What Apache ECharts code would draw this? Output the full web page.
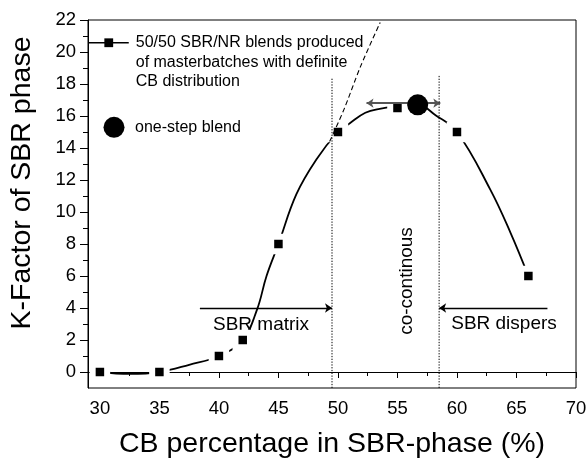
<!DOCTYPE html>
<html>
<head>
<meta charset="utf-8">
<script src="https://cdn.jsdelivr.net/npm/echarts@6/dist/echarts.min.js"></script>
<style>
html,body{margin:0;padding:0;background:#fff;}
#chart{width:587px;height:460px;}
</style>
</head>
<body>
<div id="chart"></div>
<script>
// Measured samples: 50/50 SBR/NR blends from masterbatches
const cbPercent = [30, 35, 40, 42, 45, 50, 55, 60, 66];
const kFactor   = [0, 0, 1, 2, 8, 15, 16.5, 15, 6];

// One-step blend
const oneStepCB = [56.7];
const oneStepK  = [16.7];

// Fitted curve
const curveCB = [30, 32.5, 35, 37.5, 40, 42, 43.2, 44, 45, 46.5, 48.2, 50, 51, 52.3, 53.5, 55, 56.7, 58.2, 60, 62.8, 64.5, 66];
const curveK  = [0, -0.12, 0, 0.45, 1, 2, 3.9, 6, 8, 11.1, 13.3, 15, 15.55, 16.2, 16.45, 16.6, 16.7, 16.05, 15, 11.4, 8.7, 6];

// Dashed extrapolation
const extraCB = [49.3, 50.5, 51.9, 53.55];
const extraK  = [14.4, 16.4, 19.1, 21.85];

// Phase boundaries (dotted vertical lines)
const boundaryCB  = [49.5, 58.5];
const boundaryTop = [18.4, 18.6];
const axisBottomK = -1;

// Arrows
const arrowMatrix  = [[38.4, 4], [49.5, 4]];
const arrowDispers = [[67.6, 4], [58.5, 4]];
const arrowTop     = [[52.4, 16.8], [58.6, 16.8]];

// Axis ticks
const xMin = 29, xMax = 70, xTickStart = 30, xTickStep = 5;
const yMin = -1, yMax = 22, yTickStart = 0, yTickStep = 2;

const legendNames = ['50/50 SBR/NR blends produced\nof masterbatches with definite\nCB distribution', 'one-step blend'];

const FONT = '"Liberation Sans", Arial, Helvetica, sans-serif';

const zip = (a, b) => a.map((v, i) => [v, b[i]]);

const chart = echarts.init(document.getElementById('chart'), null, {renderer: 'canvas'});

const gridL = 88, gridR = 11, gridT = 20, gridB = 72;
const plotW = 587 - gridL - gridR, plotH = 460 - gridT - gridB;
const pxPerX = plotW / (xMax - xMin), pxPerY = plotH / (yMax - yMin);
const offX = (xTickStart - xMin) * pxPerX;
const offY = (yTickStart - yMin) * pxPerY;

const boundarySeries = boundaryCB.map((x, i) => ({
  type: 'line', xAxisIndex: 0, yAxisIndex: 0, z: 5,
  data: [[x, axisBottomK], [x, boundaryTop[i]]],
  symbol: 'none', silent: true,
  lineStyle: {color: '#000', width: 1, type: [1.3, 1.5]}
}));

const arrowLine = (pts, both, color, width) => ({
  silent: true,
  symbol: both ? ['arrow', 'arrow'] : ['none', 'arrow'],
  symbolSize: 7,
  label: {show: false},
  lineStyle: {color: color, width: width, type: 'solid'},
  itemStyle: {color: '#000'},
  emphasis: {disabled: true},
  data: [[{coord: pts[0]}, {coord: pts[1]}]]
});

const option = {
  animation: false,
  backgroundColor: '#fff',
  textStyle: {fontFamily: FONT},
  grid: [
    {left: gridL, right: gridR, top: gridT, bottom: gridB, outerBoundsMode: 'none', containLabel: false,
     show: true, borderColor: '#000', borderWidth: 1, backgroundColor: 'transparent'},
    {left: gridL + offX, right: gridR, top: gridT, bottom: gridB + offY, outerBoundsMode: 'none', containLabel: false, show: false}
  ],
  xAxis: [
    {type: 'value', gridIndex: 0, min: xMin, max: xMax,
     axisLine: {show: true, lineStyle: {color: '#000', width: 1}},
     axisTick: {show: false}, axisLabel: {show: false}, splitLine: {show: false},
     name: 'CB percentage in SBR-phase (%)', nameLocation: 'middle', nameGap: 42,
     nameTextStyle: {fontSize: 28.5, color: '#000', fontFamily: FONT}},
    {type: 'value', gridIndex: 1, min: xTickStart, max: xMax, interval: xTickStep, offset: offY,
     axisLine: {show: false},
     axisTick: {show: true, inside: false, length: 6, lineStyle: {color: '#000', width: 1}},
     minorTick: {show: true, splitNumber: 2, length: 4, lineStyle: {color: '#000', width: 1}},
     axisLabel: {show: true, margin: 11, fontSize: 18.5, color: '#000', fontFamily: FONT},
     splitLine: {show: false}, minorSplitLine: {show: false}}
  ],
  yAxis: [
    {type: 'value', gridIndex: 0, min: yMin, max: yMax,
     axisLine: {show: true, lineStyle: {color: '#000', width: 1}},
     axisTick: {show: false}, axisLabel: {show: false}, splitLine: {show: false},
     name: 'K-Factor of SBR phase', nameLocation: 'middle', nameGap: 51,
     nameTextStyle: {fontSize: 28.5, color: '#000', fontFamily: FONT, padding: [0, 0, 0, 42]}},
    {type: 'value', gridIndex: 1, min: yTickStart, max: yMax, interval: yTickStep, offset: offX,
     axisLine: {show: false},
     axisTick: {show: true, inside: false, length: 8, lineStyle: {color: '#000', width: 1}},
     minorTick: {show: true, splitNumber: 2, length: 5, lineStyle: {color: '#000', width: 1}},
     axisLabel: {show: true, margin: 12, fontSize: 18.5, color: '#000', fontFamily: FONT},
     splitLine: {show: false}, minorSplitLine: {show: false}}
  ],
  legend: [
    {data: [legendNames[0]], left: gridL, top: -6, padding: 0,
     itemWidth: 40, itemHeight: 11, selectedMode: false,
     formatter: name => '\n\n' + name,
     lineStyle: {width: 1.5, color: '#000', opacity: 1},
     itemStyle: {borderWidth: 0},
     textStyle: {fontSize: 16, color: '#000', fontFamily: FONT, lineHeight: 19.5, padding: [0, 0, 0, 2]}},
    {data: [legendNames[1]], left: 103.5, top: 116.8, padding: 0,
     itemWidth: 21, itemHeight: 21, selectedMode: false,
     itemStyle: {opacity: 1},
     textStyle: {fontSize: 16, color: '#000', fontFamily: FONT, lineHeight: 19.5, padding: [0, 0, 0, 5.5]}}
  ],
  graphic: [
    {type: 'text', x: 261, y: 325, silent: true,
     style: {text: 'SBR matrix', fontSize: 19, fontFamily: FONT, fill: '#000', align: 'center', verticalAlign: 'middle'}},
    {type: 'text', x: 504, y: 323.5, silent: true,
     style: {text: 'SBR dispers', fontSize: 19, fontFamily: FONT, fill: '#000', align: 'center', verticalAlign: 'middle'}},
    {type: 'text', x: 407, y: 281, rotation: Math.PI / 2, silent: true,
     style: {text: 'co-continous', fontSize: 19, fontFamily: FONT, fill: '#000', align: 'center', verticalAlign: 'middle'}}
  ],
  series: [
    {name: 'fit', type: 'line', xAxisIndex: 0, yAxisIndex: 0, z: 2,
     data: zip(curveCB, curveK), smooth: 0.4, symbol: 'none', silent: true,
     lineStyle: {color: '#000', width: 1.8}},
    {name: legendNames[0], type: 'line', xAxisIndex: 0, yAxisIndex: 0, z: 3,
     data: zip(cbPercent, kFactor), symbol: 'rect', symbolSize: 14.5, silent: true,
     lineStyle: {width: 0, color: '#000'},
     itemStyle: {color: '#000', borderColor: '#fff', borderWidth: 6}},
    ...boundarySeries,
    {name: 'extrapolation', type: 'line', xAxisIndex: 0, yAxisIndex: 0, z: 5,
     data: zip(extraCB, extraK), smooth: 0.3, symbol: 'none', silent: true, clip: true,
     lineStyle: {color: '#000', width: 1.1, type: [5, 3]}},
    {name: 'arrows', type: 'line', xAxisIndex: 0, yAxisIndex: 0, z: 6, data: [], silent: true,
     markLine: arrowLine(arrowMatrix, false, '#000', 1.4)},
    {name: 'arrows2', type: 'line', xAxisIndex: 0, yAxisIndex: 0, z: 6, data: [], silent: true,
     markLine: arrowLine(arrowDispers, false, '#000', 1.4)},
    {name: 'arrows3', type: 'line', xAxisIndex: 0, yAxisIndex: 0, z: 6, data: [], silent: true,
     markLine: arrowLine(arrowTop, true, '#555', 2)},
    {name: legendNames[1], type: 'scatter', xAxisIndex: 0, yAxisIndex: 0, z: 8,
     data: zip(oneStepCB, oneStepK), symbol: 'circle', symbolSize: 21, silent: true,
     itemStyle: {color: '#000', opacity: 1}}
  ]
};

chart.setOption(option);
</script>
</body>
</html>
